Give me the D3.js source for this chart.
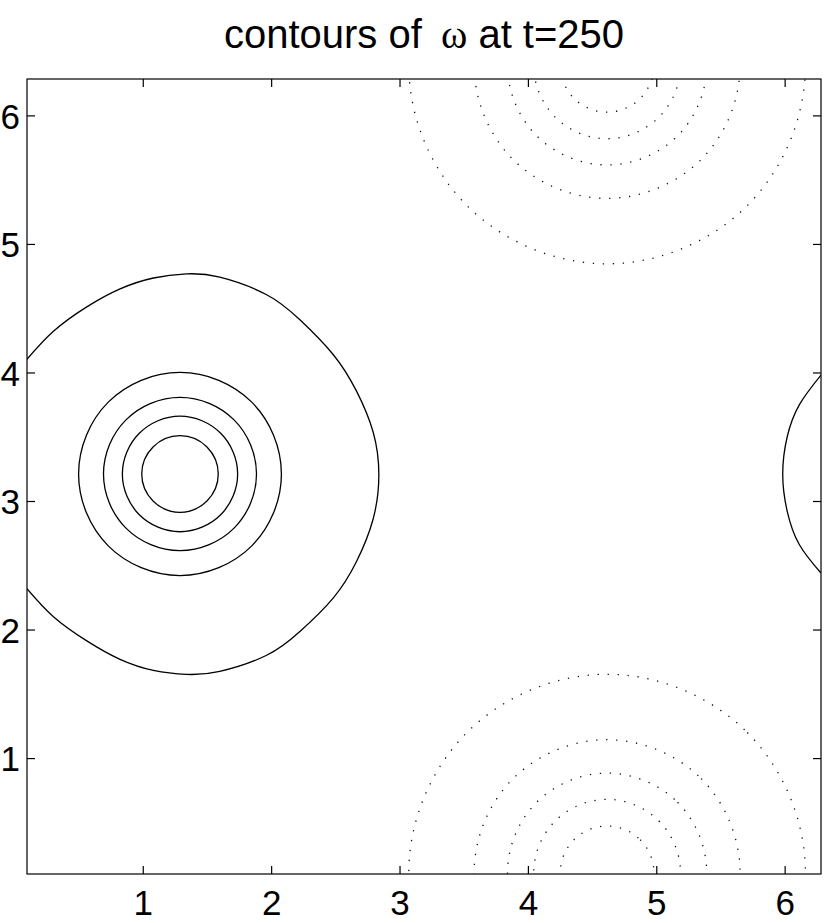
<!DOCTYPE html>
<html>
<head>
<meta charset="utf-8">
<script src="https://cdn.jsdelivr.net/npm/d3@7"></script>
<style>
  html, body { margin: 0; padding: 0; background: #fff; }
  svg { display: block; }
</style>
</head>
<body>
<script>
// ---------- data (data units) ----------
const TWO_PI = 2 * Math.PI;
const domainMin = TWO_PI / 64;
const domainMax = TWO_PI;
const xTicks = [1, 2, 3, 4, 5, 6];
const yTicks = [1, 2, 3, 4, 5, 6];
const titleText = "contours of";
const titleSymbol = "ω";
const titleTail = "at t=250";

// positive vorticity contours (solid), closed rings around the vortex core
const posRing1 = [[1.29,3.508],[1.50,3.42],[1.588,3.21],[1.50,3.0],[1.29,2.912],[1.08,3.0],[0.992,3.21],[1.08,3.42]];
const posRing2 = [[1.29,3.66],[1.607,3.527],[1.739,3.21],[1.607,2.893],[1.29,2.761],[0.973,2.893],[0.841,3.21],[0.973,3.527]];
const posRing3 = [[1.29,3.806],[1.711,3.631],[1.886,3.21],[1.711,2.789],[1.29,2.614],[0.869,2.789],[0.694,3.21],[0.869,3.631]];
const posRing4 = [[1.29,4.0],[1.849,3.769],[2.08,3.21],[1.849,2.651],[1.29,2.42],[0.731,2.651],[0.50,3.21],[0.731,3.769]];
// outermost positive contour (open, leaves through the left edge)
const posOuter = [[0.098,4.102],[0.304,4.32],[0.564,4.51],[0.823,4.65],[1.083,4.735],[1.342,4.767],[1.60,4.741],[1.965,4.605],[2.224,4.41],[2.483,4.14],[2.665,3.855],[2.795,3.535],[2.839,3.205],[2.795,2.862],[2.665,2.53],[2.483,2.245],[2.224,1.985],[1.965,1.80],[1.60,1.675],[1.342,1.651],[1.083,1.682],[0.823,1.768],[0.564,1.912],[0.304,2.10],[0.098,2.318]];
// its periodic continuation at the right edge
const posOuterWrap = [[6.283,3.98],[6.115,3.75],[6.02,3.50],[5.985,3.21],[6.02,2.92],[6.115,2.66],[6.283,2.44]];

// negative vorticity contours (dotted), rings around the core near y = 0 (periodic in y)
const negRing1 = [[4.617,0.472],[4.875,0.365],[4.982,0.107],[4.875,-0.151],[4.617,-0.258],[4.359,-0.151],[4.252,0.107],[4.359,0.365]];
const negRing2 = [[4.617,0.679],[5.021,0.511],[5.189,0.107],[5.021,-0.297],[4.617,-0.465],[4.213,-0.297],[4.045,0.107],[4.213,0.511]];
const negRing3 = [[4.617,0.883],[5.166,0.656],[5.393,0.107],[5.166,-0.442],[4.617,-0.669],[4.068,-0.442],[3.841,0.107],[4.068,0.656]];
const negRing4 = [[4.617,1.143],[5.350,0.840],[5.653,0.107],[5.350,-0.626],[4.617,-0.929],[3.884,-0.626],[3.581,0.107],[3.884,0.840]];
const negRing5 = [[4.617,1.652],[5.709,1.199],[6.162,0.107],[5.709,-0.985],[4.617,-1.438],[3.525,-0.985],[3.072,0.107],[3.525,1.199]];
const periodShifts = [0, TWO_PI];

// ---------- drawing ----------
const W = 830, H = 923;
const mLeft = 27, mRight = 821, mTop = 79, mBottom = 874;

const svg = d3.select("body").append("svg")
  .attr("width", W).attr("height", H)
  .style("font-family", "'Liberation Sans', Arial, Helvetica, sans-serif");

const x = d3.scaleLinear().domain([domainMin, domainMax]).range([mLeft, mRight]);
const y = d3.scaleLinear().domain([domainMin, domainMax]).range([mBottom, mTop]);

svg.append("defs").append("clipPath").attr("id", "plotclip")
  .append("rect").attr("x", mLeft).attr("y", mTop)
  .attr("width", mRight - mLeft).attr("height", mBottom - mTop);

const plot = svg.append("g").attr("clip-path", "url(#plotclip)");

const lineOpen = d3.line().x(d => x(d[0])).y(d => y(d[1])).curve(d3.curveNatural);
const lineClosed = d3.line().x(d => x(d[0])).y(d => y(d[1])).curve(d3.curveCardinalClosed.tension(-0.1));

// solid contours
[posRing1, posRing2, posRing3, posRing4].forEach(r => {
  plot.append("path").attr("d", lineClosed(r))
    .attr("fill", "none").attr("stroke", "#000").attr("stroke-width", 1.3);
});
[posOuter, posOuterWrap].forEach(r => {
  plot.append("path").attr("d", lineOpen(r))
    .attr("fill", "none").attr("stroke", "#000").attr("stroke-width", 1.3);
});

// dotted contours
periodShifts.forEach(s => {
  [negRing1, negRing2, negRing3, negRing4, negRing5].forEach(r => {
    const shifted = r.map(p => [p[0], p[1] + s]);
    plot.append("path").attr("d", lineClosed(shifted))
      .attr("fill", "none").attr("stroke", "#111").attr("stroke-width", 1.3)
      .attr("stroke-dasharray", "1.3 8.7");
  });
});

// axes box
svg.append("rect").attr("x", mLeft).attr("y", mTop)
  .attr("width", mRight - mLeft).attr("height", mBottom - mTop)
  .attr("fill", "none").attr("stroke", "#000").attr("stroke-width", 1.2);

const tickLen = 8;
const axB = svg.append("g").attr("transform", `translate(0,${mBottom})`)
  .call(d3.axisBottom(x).tickValues(xTicks).tickSize(-tickLen).tickPadding(16).tickFormat(d3.format("d")));
const axT = svg.append("g").attr("transform", `translate(0,${mTop})`)
  .call(d3.axisTop(x).tickValues(xTicks).tickSize(-tickLen).tickFormat(""));
const axL = svg.append("g").attr("transform", `translate(${mLeft},0)`)
  .call(d3.axisLeft(y).tickValues(yTicks).tickSize(-tickLen).tickPadding(7).tickFormat(d3.format("d")));
const axR = svg.append("g").attr("transform", `translate(${mRight},0)`)
  .call(d3.axisRight(y).tickValues(yTicks).tickSize(-tickLen).tickFormat(""));

[axB, axT, axL, axR].forEach(a => {
  a.select(".domain").remove();
  a.selectAll(".tick line").attr("stroke", "#000").attr("stroke-width", 1.2);
  a.selectAll(".tick text").attr("fill", "#000")
    .style("font-family", "'Liberation Sans', Arial, Helvetica, sans-serif")
    .style("font-size", "35px");
});
axL.selectAll(".tick text").attr("dy", "0.36em");
axB.selectAll(".tick text").attr("dy", "0.71em");

// title
const title = svg.append("text")
  .attr("x", 424).attr("y", 48)
  .attr("text-anchor", "middle")
  .style("font-size", "40px").attr("fill", "#000");
title.append("tspan").text(titleText + " ");
title.append("tspan").attr("dx", 8)
  .style("font-family", "'Liberation Serif', 'DejaVu Serif', serif").text(titleSymbol);
title.append("tspan").text(" " + titleTail);
</script>
</body>
</html>
